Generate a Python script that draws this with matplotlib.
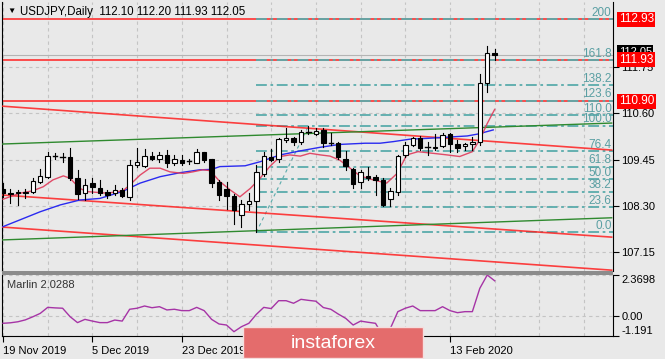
import matplotlib
matplotlib.use('Agg')
from matplotlib import pyplot as plt
from matplotlib.patches import Rectangle
from matplotlib.transforms import blended_transform_factory

plt.rcParams['font.family'] = ['Liberation Sans', 'DejaVu Sans']

# daily candles, 19 Nov 2019 .. 21 Feb 2020 (bar index 0..66)
opens = [108.72, 108.63, 108.62, 108.63, 108.65, 108.90, 109.01, 109.54, 109.54, 109.53,
         108.99, 108.62, 108.88, 108.74, 108.66, 108.62, 108.70, 108.53, 109.32, 109.29,
         109.54, 109.48, 109.57, 109.36, 109.44, 109.40, 109.38, 109.63, 109.46, 108.91,
         108.72, 108.55, 108.07, 108.35, 108.43, 109.10, 109.51, 109.47, 109.94, 109.98,
         109.88, 110.15, 110.10, 110.19, 109.86, 109.86, 109.48, 109.21, 108.90, 109.05,
         109.03, 108.95, 108.47, 108.66, 109.57, 109.81, 110.00, 109.75, 109.74, 109.79,
         110.09, 109.83, 109.80, 109.85, 109.90, 111.36, 112.10]
highs = [108.88, 108.72, 108.70, 108.72, 108.99, 109.21, 109.63, 109.61, 109.61, 109.73,
         109.20, 108.96, 108.99, 108.95, 108.70, 108.82, 108.74, 109.44, 109.73, 109.71,
         109.65, 109.65, 109.68, 109.57, 109.57, 109.48, 109.71, 109.65, 109.48, 108.95,
         108.91, 108.60, 108.45, 108.62, 109.32, 109.65, 109.71, 109.98, 110.23, 110.02,
         110.20, 110.29, 110.23, 110.23, 110.12, 109.88, 109.67, 109.24, 109.19, 109.28,
         109.07, 108.99, 108.74, 109.57, 109.90, 110.02, 110.04, 109.90, 110.10, 110.12,
         110.12, 109.94, 109.86, 110.02, 111.59, 112.27, 112.20]
lows = [108.53, 108.37, 108.33, 108.49, 108.62, 108.87, 108.99, 109.46, 109.40, 108.95,
        108.47, 108.45, 108.62, 108.58, 108.49, 108.58, 108.52, 108.45, 109.28, 109.28,
        109.44, 109.40, 109.28, 109.32, 109.32, 109.34, 109.36, 109.40, 108.78, 108.45,
        108.22, 107.86, 107.79, 108.20, 107.65, 109.05, 109.42, 109.40, 109.88, 109.81,
        109.85, 110.09, 110.06, 109.76, 109.82, 109.48, 109.20, 108.74, 108.74, 108.95,
        108.58, 108.30, 108.29, 108.58, 109.52, 109.79, 109.69, 109.57, 109.70, 109.76,
        109.65, 109.65, 109.70, 109.69, 109.81, 111.14, 111.93]
closes = [108.62, 108.60, 108.66, 108.65, 108.93, 109.05, 109.54, 109.55, 109.53, 108.99,
          108.60, 108.82, 108.77, 108.62, 108.58, 108.70, 108.55, 109.32, 109.40, 109.54,
          109.46, 109.57, 109.36, 109.46, 109.38, 109.41, 109.63, 109.44, 108.87, 108.57,
          108.55, 108.20, 108.35, 108.43, 109.15, 109.54, 109.44, 109.96, 109.99, 109.88,
          110.15, 110.14, 110.17, 109.86, 109.86, 109.53, 109.29, 108.86, 109.15, 108.99,
          108.95, 108.33, 108.68, 109.54, 109.81, 109.98, 109.73, 109.76, 109.76, 110.06,
          109.84, 109.75, 109.85, 109.90, 111.36, 112.11, 112.05]

# slow (blue) and fast (crimson) moving averages, read as (bar, price)
blue_ma_bars = [0, 2.3, 5, 7.7, 10.3, 13, 16, 18.4, 21.1, 23.8, 26.4, 28, 29.1, 32.5,
                34.5, 37.2, 39.9, 42.6, 45.2, 48.6, 50.6, 52.4, 54.6, 56.9, 59.6, 62.3,
                63.8, 65.8]
blue_ma = [107.79, 107.96, 108.16, 108.33, 108.45, 108.49, 108.66, 108.87, 109.03, 109.13,
           109.20, 109.21, 109.28, 109.30, 109.40, 109.57, 109.67, 109.76, 109.83, 109.86,
           109.86, 109.90, 109.96, 109.98, 110.01, 110.04, 110.09, 110.19]
fast_ma_bars = [0, 2.3, 4, 5.4, 6.7, 8.1, 9, 10.3, 11.3, 12.6, 14, 16.1, 17, 18.4, 19.7,
                21.1, 22.4, 24.2, 25.5, 26.8, 27.8, 29.1, 30.5, 31.8, 33.2, 34.5, 35.8,
                37.2, 38.5, 39.9, 41.2, 42.6, 43.9, 45.2, 46.6, 47.9, 49.7, 51.5, 52.9,
                54.2, 55.7, 57.7, 59.6, 61.3, 63, 64, 65, 66]
fast_ma = [108.47, 108.62, 108.68, 108.78, 108.95, 109.05, 108.99, 108.74, 108.66, 108.64,
           108.62, 108.68, 108.82, 109.07, 109.24, 109.24, 109.15, 109.11, 109.15, 109.20,
           109.18, 108.91, 108.70, 108.53, 108.74, 108.99, 109.28, 109.53, 109.57, 109.54,
           109.61, 109.57, 109.54, 109.44, 109.24, 109.05, 108.95, 108.87, 109.11, 109.57,
           109.65, 109.61, 109.57, 109.53, 109.65, 109.95, 110.35, 110.70]

# Marlin oscillator, one value per bar
marlin = [-0.45, -0.42, -0.36, -0.25, -0.07, 0.13, 0.48, 0.45, 0.43, -0.06,
          -0.41, -0.22, -0.32, -0.41, -0.41, -0.26, -0.32, 0.37, 0.43, 0.56,
          0.46, 0.52, 0.33, 0.37, 0.29, 0.29, 0.48, 0.29, -0.22, -0.49,
          -0.55, -0.94, -0.65, -0.45, 0.07, 0.48, 0.41, 0.87, 0.87, 0.72,
          0.95, 0.89, 0.84, 0.47, 0.37, 0.09, -0.16, -0.55, -0.32, -0.39,
          -0.45, -1.19, -0.74, 0.23, 0.43, 0.56, 0.29, 0.29, 0.29, 0.52,
          0.29, 0.17, 0.23, 0.23, 1.59, 2.37, 2.03]

# trend lines (bar, price) pairs
red_lines = [[(-0.13, 110.78), (81.7, 109.69)],
             [(-0.13, 108.575), (81.7, 107.53)],
             [(-0.13, 107.78), (81.7, 106.71)]]
green_lines = [[(-0.13, 109.84), (81.7, 110.36)],
               [(-0.13, 107.46), (81.7, 108.01)]]

# fibonacci from Jan 8 low to Jan 17 high
fib_low, fib_high = 107.65, 110.29
fib_low_bar, fib_high_bar = 34, 41
fib_levels = [0.0, 23.6, 38.2, 50.0, 61.8, 76.4, 100.0, 110.0, 123.6, 138.2, 161.8, 200]
fib_names = ['0.0', '23.6', '38.2', '50.0', '61.8', '76.4', '100.0', '110.0', '123.6',
             '138.2', '161.8', '200']
level_prices = [112.93, 111.93, 110.90]
bid = 112.05

price_ticks = [107.15, 108.30, 109.45, 110.60, 111.75]
# labels at bars 36 and 48 sit under the watermark, so they are left blank
date_bars = [0, 12, 24, 36, 48, 60]
date_names = ['19 Nov 2019', '5 Dec 2019', '23 Dec 2019', '', '', '13 Feb 2020']

BG = '#e9e9e9'
W, H = 665, 359
fig = plt.figure(figsize=(W / 100, H / 100), dpi=100, facecolor=BG)

def fx(px): return px / W
def fy(py): return 1 - py / H

xmin, xmax = (2 - 3) / 7.45, (613 - 3) / 7.45
ax = fig.add_axes([fx(2), fy(271), fx(611), (271 - 2) / H], facecolor=BG)
ax2 = fig.add_axes([fx(2), fy(336), fx(611), (336 - 275) / H], facecolor=BG)

for a in (ax, ax2):
    a.set_xlim(xmin, xmax)
    for s in a.spines.values():
        s.set_color('black')
        s.set_linewidth(0.8)
    a.spines['top'].set_visible(False)
    a.yaxis.tick_right()
    a.tick_params(axis='y', direction='out', length=4, width=0.8, pad=2, labelsize=8,
                  colors='black')
    a.set_xticks([b for b in range(0, 84, 6)], minor=False)
    a.grid(True, color='#c4c4c4', linestyle=(0, (3, 3)), linewidth=0.8)
    a.set_axisbelow(True)
ax.spines['bottom'].set_visible(False)
ax.tick_params(axis='x', length=0, labelbottom=False)

ax.set_ylim(112.93 - 251.5 / 40.3, 112.93 + 17.5 / 40.3)
ax.set_yticks(price_ticks)
ax.set_yticklabels(['%.2f' % p for p in price_ticks])

# horizontal levels
for p in level_prices:
    ax.axhline(p, color='#ff3030', lw=1.4, alpha=0.85, zorder=2)
ax.axhline(bid, color='#b4b4b4', lw=0.8, zorder=1)

# fibonacci
frange = fib_high - fib_low
for lv, nm in zip(fib_levels, fib_names):
    fp = fib_low + frange * lv / 100
    ax.plot([fib_low_bar - 0.1, xmax], [fp, fp], color='#5aabab', lw=1.3,
            linestyle=(0, (6, 2, 1.5, 2)), zorder=2.5)
    ax.text(xmax - 0.2, fp + 0.01, nm, ha='right', va='bottom', fontsize=8.5,
            color='#5a9fa3', zorder=6)
ax.plot([fib_low_bar, fib_high_bar], [fib_low, fib_high], color='#5aabab', lw=0.8,
        linestyle=(0, (3, 3)), zorder=2.5)

for ln in red_lines:
    ax.plot([ln[0][0], ln[1][0]], [ln[0][1], ln[1][1]], color='#ff2020', lw=1.2,
            alpha=0.85, zorder=3)
for ln in green_lines:
    ax.plot([ln[0][0], ln[1][0]], [ln[0][1], ln[1][1]], color='#2f8a2f', lw=1.0, zorder=3)

ax.plot(blue_ma_bars, blue_ma, color='#2a2af0', lw=1.0, zorder=3)
ax.plot(fast_ma_bars, fast_ma, color='#e03a5a', lw=1.0, alpha=0.9, zorder=3)

# candles
bw = 0.6
for i in range(len(opens)):
    o, h, l, c = opens[i], highs[i], lows[i], closes[i]
    ax.plot([i, i], [l, h], color='black', lw=0.8, zorder=4)
    lo, hi = min(o, c), max(o, c)
    if hi - lo < 0.015:
        ax.plot([i - bw / 2, i + bw / 2], [c, c], color='black', lw=1.0, zorder=5)
    else:
        ax.add_patch(Rectangle((i - bw / 2, lo), bw, hi - lo,
                               facecolor='white' if c > o else 'black',
                               edgecolor='black', lw=0.8, zorder=5))

# price labels on the right axis
tr = blended_transform_factory(ax.transAxes, ax.transData)
ax.text(1.0095, bid + 0.08, '%.2f' % bid, transform=tr, ha='left', va='center',
        fontsize=8, color='white', clip_on=False, zorder=7,
        bbox=dict(boxstyle='square,pad=0.12', fc='black', ec='none'))
for p in level_prices:
    ax.text(1.0095, p, '%.2f' % p, transform=tr, ha='left', va='center',
            fontsize=8.5, color='white', clip_on=False, zorder=8,
            bbox=dict(boxstyle='square,pad=0.12', fc='#ff0000', ec='none'))

# title
fig.text(fx(7), fy(11.5), '\u25bc', fontsize=6, ha='left', va='center', color='black')
fig.text(fx(20), fy(12), 'USDJPY,Daily  112.10 112.20 111.93 112.05', fontsize=8.3,
         ha='left', va='center', color='black')

# indicator panel
ax2.set_ylim(-1.191, 2.3698)
ax2.plot(range(len(marlin)), marlin, color='#a634a6', lw=1.0, zorder=3)
ax2.set_yticks([-1.191, 0.0, 2.3698])
ax2.set_yticklabels(['-1.191', '0.00', '2.3698'])
labs = ax2.get_yticklabels()
labs[0].set_va('bottom')
labs[2].set_va('top')
ax2.grid(True, axis='y', color='#c4c4c4', linestyle=(0, (3, 3)), linewidth=0.8)
ax2.set_xticks(date_bars)
ax2.set_xticklabels(date_names, ha='left', fontsize=8)
ax2.tick_params(axis='x', direction='out', length=4, width=0.8, pad=3)
ax2.xaxis.grid(False)
for b in range(0, 84, 6):
    ax2.axvline(b, color='#c4c4c4', linestyle=(0, (3, 3)), lw=0.8, zorder=0)
ax2.text(0.008, 0.84, 'Marlin 2.0288', transform=ax2.transAxes, fontsize=8,
         color='#333333', ha='left', va='center')

# separator between the panels
fig.patches.append(Rectangle((fx(2), fy(275)), fx(611), 4 / H, transform=fig.transFigure,
                             facecolor='#8c8c8c', edgecolor='none', zorder=5))

# watermark box
fig.patches.append(Rectangle((fx(243), fy(358)), fx(180), 31 / H, transform=fig.transFigure,
                             facecolor='#e46c6c', edgecolor='#f4dede', lw=1.0, zorder=10))
fig.text(fx(333), fy(343), 'instaforex', fontsize=14, color='white', ha='center',
         va='center', zorder=11)

fig.savefig('out.png', dpi=100, facecolor=BG)
